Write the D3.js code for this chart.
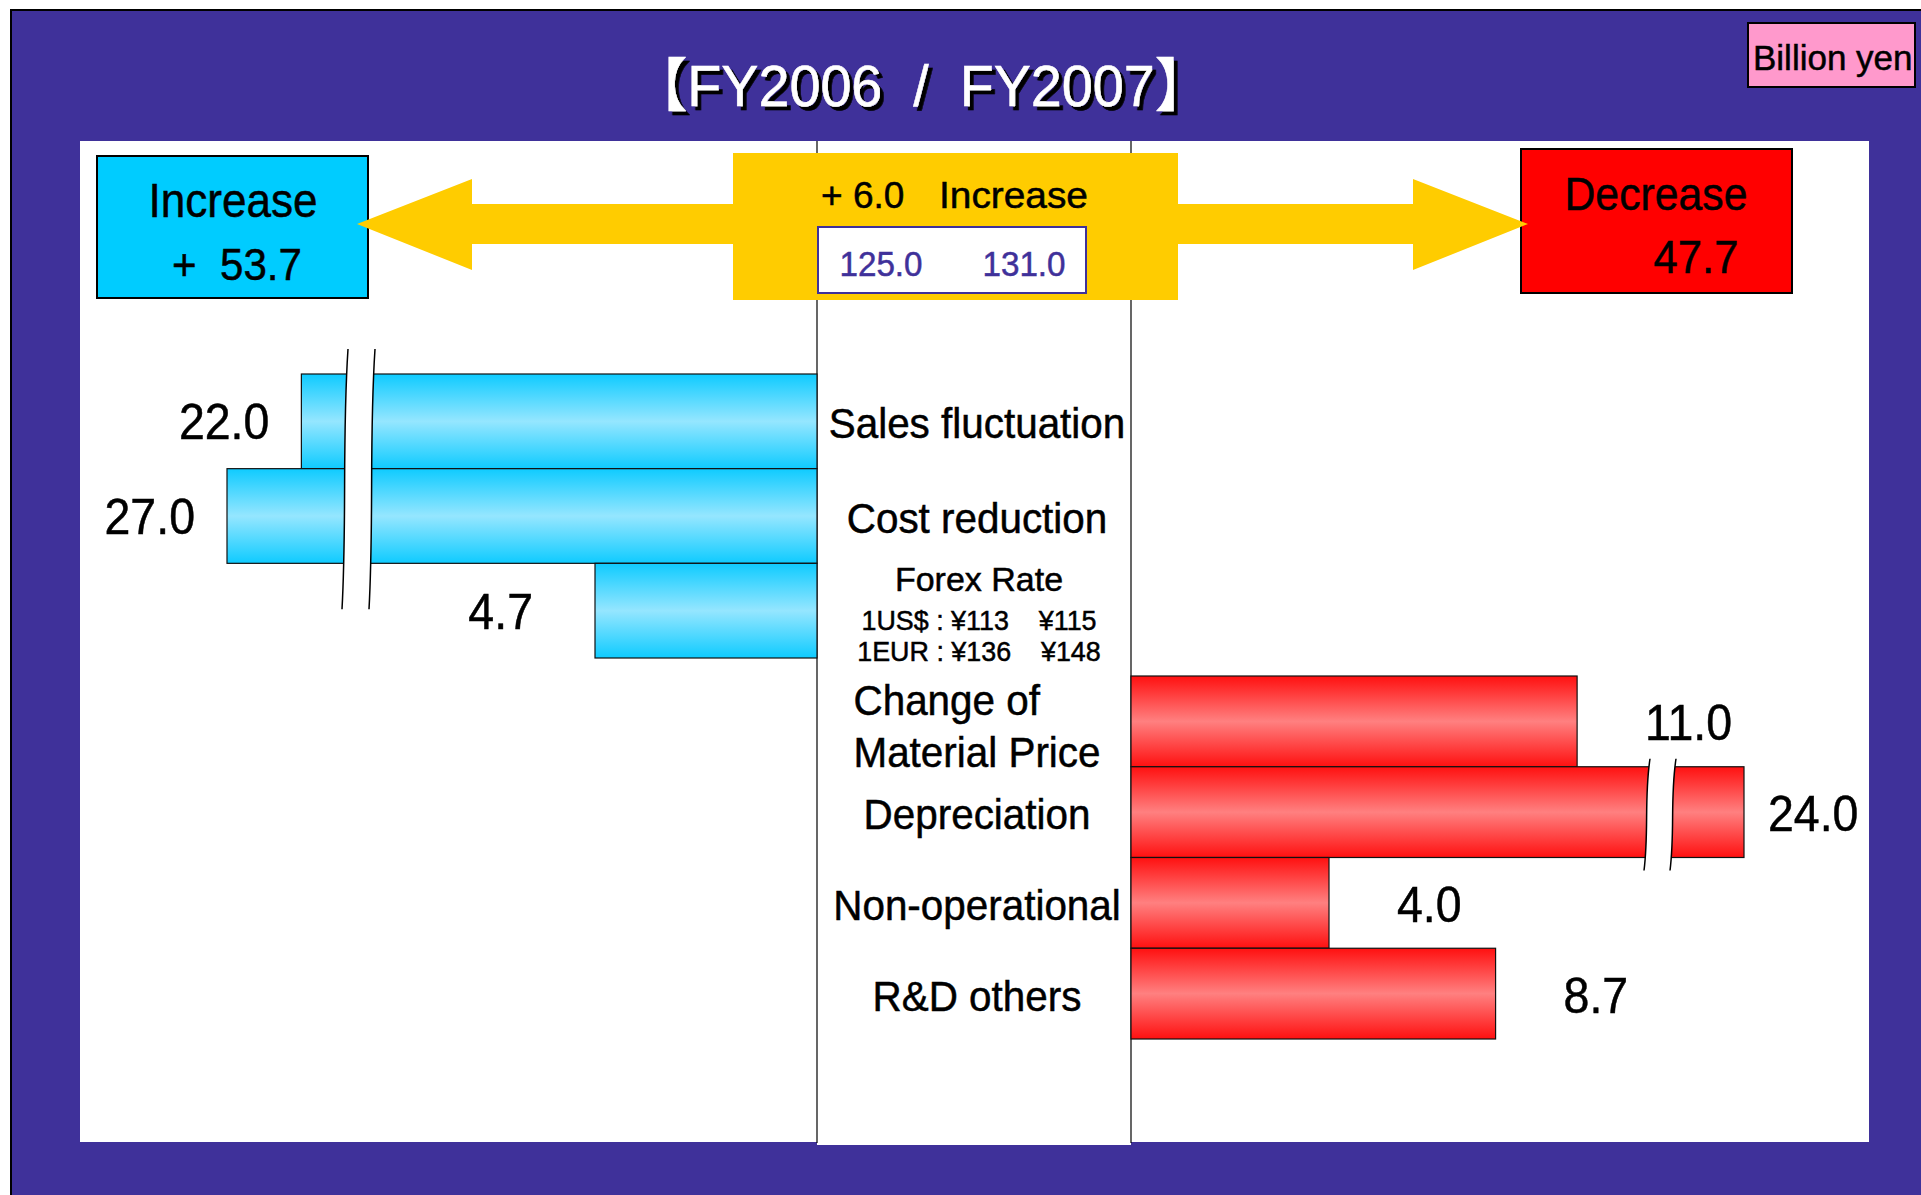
<!DOCTYPE html>
<html>
<head>
<meta charset="utf-8">
<script src="https://cdn.jsdelivr.net/npm/d3@7"></script>
<style>
  body { margin: 0; background: #fff; }
  text { font-family: "Liberation Sans", Arial, "Noto Sans CJK JP", sans-serif; white-space: pre; }
</style>
</head>
<body>
<div class="canvas"></div>
<script>
// chart data
const titleText = '【FY2006  /  FY2007】';
const unitText = 'Billion yen';
const gainCategories = ['Sales fluctuation', 'Cost reduction', 'Forex Rate'];
const gainValues = [22.0, 27.0, 4.7];
const lossCategories = ['Change of\nMaterial Price', 'Depreciation', 'Non-operational', 'R&D others'];
const lossValues = [11.0, 24.0, 4.0, 8.7];
const forexLines = ['1US$ : ¥113    ¥115', '1EUR : ¥136    ¥148'];
const profitYears = [125.0, 131.0];
const totalIncrease = 53.7;
const totalDecrease = 47.7;

// page dimensions
const width = 1921;
const height = 1195;
const purple = '#3F319A';
const fmt = d3.format('.1f');

// layout of the white panel and the centre column
const panel = { left: 80, right: 1869, top: 141, bottom: 1142 };
const column = { left: 817, right: 1131 };

const svg = d3.select('.canvas')
  .append('svg')
  .attr('width', width)
  .attr('height', height);

// vertical gradients for the bars
const defs = svg.append('defs');
const gradient = (id, edge, mid) => {
  const g = defs.append('linearGradient')
    .attr('id', id)
    .attr('x1', 0).attr('y1', 0)
    .attr('x2', 0).attr('y2', 1);
  g.append('stop').attr('offset', '0%').attr('stop-color', edge);
  g.append('stop').attr('offset', '50%').attr('stop-color', mid);
  g.append('stop').attr('offset', '100%').attr('stop-color', edge);
};
gradient('blueBar', '#0FCBFF', '#95E6FF');
gradient('redBar', '#FF1010', '#FF8080');

// hard drop shadow for the title
defs.append('filter')
  .attr('id', 'shadow')
  .append('feDropShadow')
  .attr('dx', 4).attr('dy', 4)
  .attr('stdDeviation', 0)
  .attr('flood-color', '#000')
  .attr('flood-opacity', 1);

// text helper (slightly condensed and heavy like the original font)
const label = (parent, str, x, y, size, anchor = 'middle', sx = 0.93, fill = '#000') =>
  parent.append('text')
    .attr('transform', `translate(${x},${y}) scale(${sx},1)`)
    .attr('text-anchor', anchor)
    .attr('font-size', size)
    .attr('fill', fill)
    .attr('stroke', fill)
    .attr('stroke-width', 0.5)
    .text(str);

// background frame
svg.append('rect')
  .attr('x', 11).attr('y', 10)
  .attr('width', width - 11).attr('height', height - 10)
  .attr('fill', purple);
svg.append('path')
  .attr('d', `M11,${height} L11,10 L${width},10`)
  .attr('fill', 'none')
  .attr('stroke', '#000')
  .attr('stroke-width', 2);

// title
label(svg, titleText, 921, 106, 58, 'middle', 0.96, '#fff')
  .attr('filter', 'url(#shadow)');

// unit box
svg.append('rect')
  .attr('x', 1748).attr('y', 23)
  .attr('width', 167).attr('height', 64)
  .attr('fill', '#FF99CC')
  .attr('stroke', '#000')
  .attr('stroke-width', 2);
label(svg, unitText, 1753, 70, 35, 'start', 1);

// white panel and centre column
svg.append('rect')
  .attr('x', panel.left).attr('y', panel.top)
  .attr('width', panel.right - panel.left).attr('height', panel.bottom - panel.top)
  .attr('fill', '#fff');
svg.append('rect')
  .attr('x', column.left).attr('y', panel.top)
  .attr('width', column.right - column.left).attr('height', panel.bottom - panel.top + 3)
  .attr('fill', '#fff');
svg.selectAll('.column-line')
  .data([column.left, column.right])
  .enter()
  .append('line')
  .attr('class', 'column-line')
  .attr('x1', d => d).attr('x2', d => d)
  .attr('y1', panel.top).attr('y2', panel.bottom + 1)
  .attr('stroke', '#000')
  .attr('stroke-width', 1.2);

// scales (both value axes are broken, so they are piecewise)
const gainBreak = [9.4, 19];
const lossBreak = [13, 21];
const xGain = d3.scaleLinear()
  .domain([0, gainBreak[0], gainBreak[1], 27])
  .range([column.left, 373, 346, 227]);
const xLoss = d3.scaleLinear()
  .domain([0, 4, lossBreak[0], lossBreak[1], 24])
  .range([column.right, 1329, 1648, 1674, 1744]);
const yGain = d3.scaleBand().domain(gainCategories).range([374, 658]);
const yLoss = d3.scaleBand().domain(lossCategories).range([676, 1039]);

const gainData = gainCategories.map((c, i) => ({ cat: c, value: gainValues[i] }));
const lossData = lossCategories.map((c, i) => ({ cat: c, value: lossValues[i] }));

const bars = svg.append('g');

// increase bars (grow to the left)
bars.selectAll('.gain')
  .data(gainData)
  .enter()
  .append('rect')
  .attr('class', 'gain')
  .attr('x', d => xGain(d.value))
  .attr('y', d => yGain(d.cat))
  .attr('width', d => column.left - xGain(d.value))
  .attr('height', yGain.bandwidth())
  .attr('fill', 'url(#blueBar)')
  .attr('stroke', '#111')
  .attr('stroke-width', 1.2);

// decrease bars (grow to the right)
bars.selectAll('.loss')
  .data(lossData)
  .enter()
  .append('rect')
  .attr('class', 'loss')
  .attr('x', column.right)
  .attr('y', d => yLoss(d.cat))
  .attr('width', d => xLoss(d.value) - column.right)
  .attr('height', yLoss.bandwidth())
  .attr('fill', 'url(#redBar)')
  .attr('stroke', '#111')
  .attr('stroke-width', 1.2);

// axis break marks
const wave = (x, y0, y1) => {
  const h = y1 - y0;
  return `C${x - 4},${y0 + h * 0.35} ${x + 1},${y1 - h * 0.35} ${x - 4},${y1}`;
};
const waveBack = (x, y0, y1) => {
  const h = y1 - y0;
  return `C${x + 1},${y1 - h * 0.35} ${x - 4},${y0 + h * 0.35} ${x + 2},${y0}`;
};
const drawBreak = (xa, xb, y0, y1) => {
  const left = Math.min(xa, xb);
  const right = Math.max(xa, xb);
  svg.append('path')
    .attr('d', `M${left + 2},${y0} ${wave(left, y0, y1)} L${right - 4},${y1} ${waveBack(right, y0, y1)} Z`)
    .attr('fill', '#fff');
  [left, right].forEach(x => {
    svg.append('path')
      .attr('d', `M${x + 2},${y0} ${wave(x, y0, y1)}`)
      .attr('fill', 'none')
      .attr('stroke', '#000')
      .attr('stroke-width', 1.5);
  });
};
drawBreak(xGain(gainBreak[0]), xGain(gainBreak[1]),
  yGain(gainCategories[0]) - 25, yGain(gainCategories[1]) + yGain.bandwidth() + 46);
const brokenLoss = lossData.find(d => d.value > lossBreak[1]);
drawBreak(xLoss(lossBreak[0]), xLoss(lossBreak[1]),
  yLoss(brokenLoss.cat) - 8, yLoss(brokenLoss.cat) + yLoss.bandwidth() + 13);

// value labels
const numbers = svg.append('g');
gainData.forEach(d => {
  const gap = d.value > gainBreak[1] ? 32 : 62;
  label(numbers, fmt(d.value), xGain(d.value) - gap, yGain(d.cat) + yGain.bandwidth() / 2 + 18, 50, 'end');
});
lossData.forEach(d => {
  const gap = d.value > lossBreak[1] ? 24 : 68;
  label(numbers, fmt(d.value), xLoss(d.value) + gap, yLoss(d.cat) + yLoss.bandwidth() / 2 + 19, 50, 'start');
});

// category labels in the centre column
const catX = (column.left + column.right) / 2 + 3;
const drawCategory = (cat, cy) => {
  const lines = cat.split('\n');
  const g = svg.append('g');
  if (lines.length === 1) {
    label(g, cat, catX, cy + 17, 43, 'middle', 0.94);
    return;
  }
  lines.forEach((line, i) => {
    label(g, line, 0, cy + 20 + (i - (lines.length - 1) / 2) * 52, 43, 'start', 0.94);
  });
  const box = g.node().getBBox();
  g.attr('transform', `translate(${catX - box.width / 2},0)`);
};
gainCategories.forEach(c => {
  const cy = yGain(c) + yGain.bandwidth() / 2;
  if (c === 'Forex Rate') {
    label(svg, c, catX + 2, cy - 20, 34, 'middle', 1.0);
    forexLines.forEach((line, i) => label(svg, line, catX + 2, cy + 19 + i * 31, 28, 'middle', 0.96));
  } else {
    drawCategory(c, cy);
  }
});
lossCategories.forEach(c => drawCategory(c, yLoss(c) + yLoss.bandwidth() / 2));

// summary boxes
svg.append('rect')
  .attr('x', 97).attr('y', 156)
  .attr('width', 271).attr('height', 142)
  .attr('fill', '#00CCFF')
  .attr('stroke', '#000')
  .attr('stroke-width', 2);
label(svg, 'Increase', 233, 217, 49, 'middle', 0.9);
label(svg, `+  ${fmt(totalIncrease)}`, 237, 280, 45, 'middle', 0.935);

svg.append('rect')
  .attr('x', 1521).attr('y', 149)
  .attr('width', 271).attr('height', 144)
  .attr('fill', '#FF0000')
  .attr('stroke', '#000')
  .attr('stroke-width', 2);
label(svg, 'Decrease', 1656, 210, 46, 'middle', 0.93);
label(svg, fmt(totalDecrease), 1696, 273, 47, 'middle', 0.93);

svg.append('rect')
  .attr('x', 733).attr('y', 153)
  .attr('width', 445).attr('height', 147)
  .attr('fill', '#FFCC00');
label(svg, `+ ${fmt(profitYears[1] - profitYears[0])}`, 821, 208, 37, 'start', 1);
label(svg, 'Increase', 939, 208, 37, 'start', 1.05);
svg.append('rect')
  .attr('x', 818).attr('y', 227)
  .attr('width', 268).attr('height', 66)
  .attr('fill', '#fff')
  .attr('stroke', purple)
  .attr('stroke-width', 2);
profitYears.forEach((v, i) => label(svg, fmt(v), 881 + i * 143, 276, 35, 'middle', 0.95, purple));

// arrows from the yellow box
const arrow = d3.line();
svg.append('path')
  .attr('d', arrow([[357, 224], [472, 179], [472, 204], [733, 204], [733, 244], [472, 244], [472, 270]]) + 'Z')
  .attr('fill', '#FFCC00');
svg.append('path')
  .attr('d', arrow([[1528, 224], [1413, 179], [1413, 204], [1178, 204], [1178, 244], [1413, 244], [1413, 270]]) + 'Z')
  .attr('fill', '#FFCC00');
</script>
</body>
</html>
